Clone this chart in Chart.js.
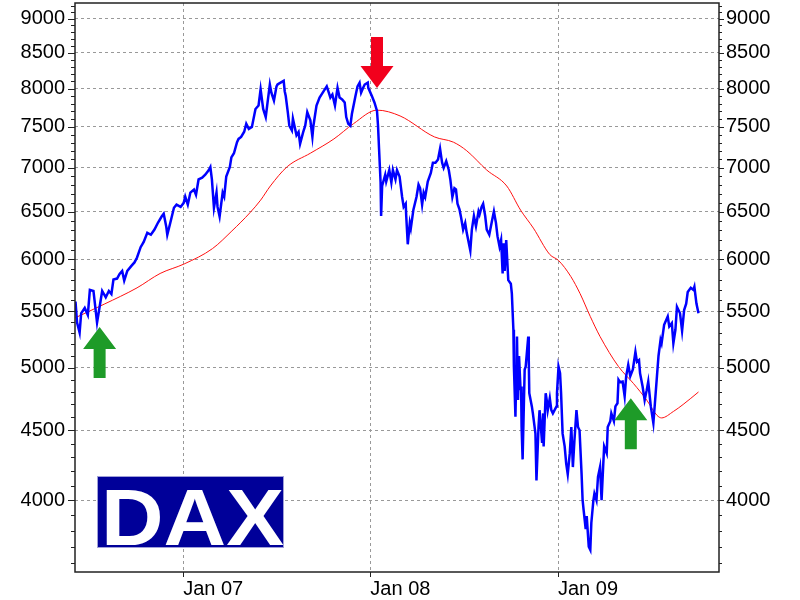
<!DOCTYPE html>
<html>
<head>
<meta charset="utf-8">
<title>DAX</title>
<script src="https://cdn.jsdelivr.net/npm/chart.js@4.4.1/dist/chart.umd.min.js"></script>
<style>
  body { margin: 0; background: #fff; }
  #wrap { width: 800px; height: 600px; }
</style>
</head>
<body>
<div id="wrap"><canvas id="daxChart" width="800" height="600"></canvas></div>
<script>
// DAX closes, every few trading days
const daxDates = [
  '2006-06-05','2006-06-08','2006-06-13','2006-06-16','2006-06-23','2006-06-29','2006-07-03','2006-07-10','2006-07-12','2006-07-17',
  '2006-07-20','2006-07-27','2006-08-03','2006-08-09','2006-08-14','2006-08-18','2006-08-25','2006-08-30','2006-09-04','2006-09-08',
  '2006-09-14','2006-09-22','2006-09-28','2006-10-03','2006-10-10','2006-10-16','2006-10-23','2006-10-30','2006-11-06','2006-11-13',
  '2006-11-20','2006-11-24','2006-11-29','2006-12-01','2006-12-07','2006-12-14','2006-12-19','2006-12-27',
  '2007-01-02','2007-01-05','2007-01-10','2007-01-15','2007-01-22','2007-01-26','2007-01-31','2007-02-07','2007-02-13','2007-02-20',
  '2007-02-23','2007-02-26','2007-03-02','2007-03-07','2007-03-09','2007-03-13','2007-03-19','2007-03-22','2007-03-26','2007-04-02',
  '2007-04-05','2007-04-10','2007-04-16','2007-04-19','2007-04-24','2007-04-30','2007-05-04','2007-05-09','2007-05-15','2007-05-22',
  '2007-05-28','2007-06-01','2007-06-06','2007-06-11','2007-06-15','2007-06-19','2007-06-22','2007-06-27','2007-07-02','2007-07-04',
  '2007-07-10','2007-07-16','2007-07-18','2007-07-20','2007-07-24','2007-07-27','2007-08-01','2007-08-03','2007-08-10','2007-08-14',
  '2007-08-17','2007-08-23','2007-08-27','2007-08-31','2007-09-06','2007-09-10','2007-09-12','2007-09-18','2007-09-24','2007-10-02',
  '2007-10-08','2007-10-12','2007-10-15','2007-10-19','2007-10-24','2007-10-29','2007-11-02','2007-11-07','2007-11-12','2007-11-15',
  '2007-11-19','2007-11-23','2007-11-26','2007-12-03','2007-12-07','2007-12-11','2007-12-14','2007-12-18','2007-12-21','2007-12-27',
  '2007-12-28',
  '2008-01-04','2008-01-09','2008-01-14','2008-01-16','2008-01-18','2008-01-21','2008-01-22','2008-01-24','2008-01-30','2008-02-01',
  '2008-02-07','2008-02-11','2008-02-14','2008-02-19','2008-02-22','2008-02-27','2008-03-03','2008-03-06','2008-03-10','2008-03-11',
  '2008-03-14','2008-03-18','2008-03-20','2008-03-25','2008-03-31','2008-04-04','2008-04-07','2008-04-11','2008-04-14','2008-04-17',
  '2008-04-22','2008-04-28','2008-05-02','2008-05-07','2008-05-12','2008-05-16','2008-05-20','2008-05-23','2008-05-28','2008-06-02',
  '2008-06-05','2008-06-09','2008-06-13','2008-06-16','2008-06-19','2008-06-23','2008-06-26','2008-06-30','2008-07-04','2008-07-07',
  '2008-07-14','2008-07-17','2008-07-21','2008-07-25','2008-07-30','2008-08-01','2008-08-05','2008-08-08','2008-08-12','2008-08-15',
  '2008-08-20','2008-08-25','2008-08-29','2008-09-02','2008-09-05','2008-09-09','2008-09-12','2008-09-15','2008-09-17','2008-09-19',
  '2008-09-22','2008-09-26','2008-10-01','2008-10-03','2008-10-06','2008-10-07','2008-10-10','2008-10-13','2008-10-15','2008-10-17',
  '2008-10-20','2008-10-21','2008-10-22','2008-10-24','2008-10-28','2008-10-30','2008-11-04','2008-11-05','2008-11-06','2008-11-11',
  '2008-11-13','2008-11-18','2008-11-20','2008-11-24','2008-11-26','2008-12-01','2008-12-03','2008-12-04','2008-12-08','2008-12-10',
  '2008-12-12','2008-12-16','2008-12-19','2008-12-22','2008-12-29','2008-12-30',
  '2009-01-02','2009-01-05','2009-01-07','2009-01-10','2009-01-14','2009-01-17','2009-01-20','2009-01-24','2009-01-27','2009-01-30',
  '2009-02-02','2009-02-06','2009-02-09','2009-02-12','2009-02-16','2009-02-18','2009-02-20','2009-02-24','2009-02-26','2009-03-02',
  '2009-03-05','2009-03-07','2009-03-11','2009-03-13','2009-03-17','2009-03-20','2009-03-24','2009-03-27','2009-03-30','2009-04-01',
  '2009-04-06','2009-04-08','2009-04-13','2009-04-15','2009-04-20','2009-04-23','2009-04-27','2009-04-29','2009-05-02','2009-05-07',
  '2009-05-11','2009-05-14','2009-05-18','2009-05-22','2009-05-27','2009-06-01','2009-06-04','2009-06-08','2009-06-10','2009-06-15',
  '2009-06-19','2009-06-23','2009-06-26','2009-07-01','2009-07-06','2009-07-09','2009-07-13','2009-07-16','2009-07-20','2009-07-22',
  '2009-07-27','2009-08-03','2009-08-06','2009-08-11','2009-08-14','2009-08-18','2009-08-21','2009-08-27','2009-08-31','2009-09-04',
  '2009-09-08','2009-09-11','2009-09-17','2009-09-22','2009-09-24','2009-09-28','2009-10-02'
];
const daxValues = [
  5590,5395,5305,5480,5530,5465,5700,5690,5605,5395,
  5480,5690,5630,5690,5660,5800,5810,5855,5885,5790,
  5885,5935,5970,6020,6125,6180,6275,6255,6310,6385,
  6450,6480,6340,6255,6385,6545,6580,6555,
  6600,6670,6580,6715,6750,6690,6865,6885,6920,6975,
  7010,6865,6545,6715,6555,6450,6715,6670,6900,7010,
  7125,7175,7310,7350,7375,7440,7540,7475,7500,7730,
  7775,7990,7730,7625,7840,8055,7945,7840,8030,8055,
  8080,8105,7965,7900,7690,7515,7455,7605,7395,7435,
  7290,7435,7515,7690,7585,7375,7515,7775,7880,7965,
  8030,7945,7880,7920,7775,8010,7880,7855,7815,7625,
  7540,7515,7665,7900,8030,8080,7945,8010,8055,8080,
  8010,
  7900,7815,7705,7515,7230,6830,6455,6790,6920,6840,
  6975,6830,6975,6865,6975,6900,6665,6555,6590,6455,
  6155,6380,6325,6525,6665,6805,6765,6580,6715,6665,
  6840,6940,7060,7060,7100,7230,7060,7000,7080,6975,
  6865,6665,6765,6750,6590,6525,6440,6310,6380,6275,
  6090,6310,6455,6345,6505,6470,6555,6590,6455,6310,
  6255,6395,6505,6380,6240,6130,6200,5860,6165,5885,
  6200,5795,5760,5665,5330,5010,4605,5270,4735,5100,
  4815,4845,4525,4285,4985,5010,5270,5065,4790,4685,
  4630,4475,4135,4525,4655,4405,4630,4380,4790,4735,
  4655,4750,4655,4630,4685,4790,
  5010,4955,4790,4475,4380,4255,4180,4330,4525,4230,
  4420,4655,4525,4500,4180,4000,3935,3810,3895,3700,
  3680,3850,4000,4045,4000,4160,4230,4000,4230,4380,
  4330,4525,4570,4630,4570,4685,4710,4900,4880,4885,
  4765,4930,5025,4930,4985,5135,5050,5065,4955,4845,
  4735,4815,4885,4685,4555,4710,4930,5100,5240,5210,
  5375,5450,5360,5390,5210,5330,5540,5480,5320,5510,
  5570,5680,5720,5700,5730,5570,5480
];

// 200 day moving average
const maDates = [
  '2006-06-05','2006-07-31','2006-10-03','2006-11-17','2007-01-03','2007-02-27','2007-04-06','2007-05-11','2007-06-01','2007-06-20',
  '2007-07-23','2007-09-06','2007-10-22','2007-11-29','2008-01-14','2008-02-28','2008-05-05','2008-06-11','2008-07-07','2008-08-15',
  '2008-09-23','2008-10-20','2008-11-14','2008-12-16','2009-01-02','2009-01-26','2009-02-13','2009-03-05','2009-03-24','2009-04-29',
  '2009-05-28','2009-06-23','2009-07-13','2009-07-22','2009-08-14','2009-09-02','2009-10-02'
];
const maValues = [
  5440,5565,5720,5860,5955,6110,6295,6490,6630,6790,
  7015,7175,7350,7540,7715,7640,7375,7310,7205,6975,
  6790,6520,6325,6050,5990,5830,5665,5450,5270,5010,
  4870,4735,4615,4595,4645,4700,4800
];

// axes
const yTicks = [4000, 4500, 5000, 5500, 6000, 6500, 7000, 7500, 8000, 8500, 9000];
const yMin = 3545;
const yMax = 9240;
const xTickDates = ['2007-01-01', '2008-01-01', '2009-01-01'];
const xTickLabels = ['Jan 07', 'Jan 08', 'Jan 09'];
const xMinDate = '2006-06-04';
const xMaxDate = '2009-11-11';

// signal arrows, given by the point the tip touches
const arrowDates = ['2006-07-22', '2008-01-14', '2009-05-23'];
const arrowValues = [5356, 8009, 4749];
const arrowDirs = ['up', 'down', 'up'];

function toPoints(dates, values) {
  return dates.map((d, i) => ({ x: Date.parse(d), y: values[i] }));
}

// draw a block arrow, tip at (tx, ty)
function drawArrow(ctx, tx, ty, dir, color) {
  const s = dir === 'up' ? 1 : -1;
  const head = 22, len = 51, hw = 16.5, sw = 6;
  ctx.beginPath();
  ctx.moveTo(tx, ty);
  ctx.lineTo(tx + hw, ty + s * head);
  ctx.lineTo(tx + sw, ty + s * head);
  ctx.lineTo(tx + sw, ty + s * len);
  ctx.lineTo(tx - sw, ty + s * len);
  ctx.lineTo(tx - sw, ty + s * head);
  ctx.lineTo(tx - hw, ty + s * head);
  ctx.closePath();
  ctx.fillStyle = color;
  ctx.fill();
}

function drawLogo(ctx, left, top, w, h) {
  ctx.save();
  ctx.fillStyle = '#000099';
  ctx.fillRect(left, top, w, h);
  ctx.strokeStyle = '#a0a0d8';
  ctx.lineWidth = 1;
  ctx.strokeRect(left + 0.5, top + 0.5, w - 1, h - 1);
  ctx.font = 'bold 80px "Liberation Sans", Arial, sans-serif';
  const tw = ctx.measureText('DAX').width;
  ctx.translate(left + 4, top + h - 3);
  ctx.scale((w - 4) / tw, 1);
  ctx.fillStyle = '#ffffff';
  ctx.textBaseline = 'alphabetic';
  ctx.fillText('DAX', 0, 0);
  ctx.restore();
}

const decorations = {
  id: 'decorations',
  afterDatasetsDraw(chart) {
    const { ctx, chartArea: a, scales: { x, y } } = chart;
    drawLogo(ctx, a.left + 22, 476, 187, 72);
    arrowDates.forEach((d, i) => {
      const px = x.getPixelForValue(Date.parse(d));
      const py = y.getPixelForValue(arrowValues[i]);
      drawArrow(ctx, px, py, arrowDirs[i], arrowDirs[i] === 'up' ? '#1e9b28' : '#f2001c');
    });
  },
  afterDraw(chart) {
    const { ctx, chartArea: a, scales: { x, y } } = chart;
    ctx.save();
    ctx.strokeStyle = '#222';
    ctx.lineWidth = 1.5;
    ctx.strokeRect(a.left, a.top, a.right - a.left, a.bottom - a.top);
    ctx.lineWidth = 1;
    ctx.beginPath();
    // minor ticks every 100, longer at the labelled ones
    for (let v = 3600; v <= 9200; v += 100) {
      const py = Math.round(y.getPixelForValue(v)) + 0.5;
      const major = v % 500 === 0;
      ctx.moveTo(a.left - (major ? 7 : 4), py);
      ctx.lineTo(a.left, py);
      ctx.moveTo(a.right, py);
      ctx.lineTo(a.right + (major ? 5 : 3), py);
    }
    xTickDates.forEach((d) => {
      const px = Math.round(x.getPixelForValue(Date.parse(d))) + 0.5;
      ctx.moveTo(px, a.bottom);
      ctx.lineTo(px, a.bottom + 5);
    });
    ctx.stroke();
    ctx.restore();
  }
};

Chart.defaults.font.family = '"Liberation Sans", Arial, sans-serif';
Chart.defaults.font.size = 20;
Chart.defaults.color = '#000';

const logYAxis = (position, width, pad, showGrid) => ({
  type: 'logarithmic',
  position: position,
  min: yMin,
  max: yMax,
  bounds: 'data',
  afterBuildTicks: (scale) => { scale.ticks = yTicks.map((v) => ({ value: v })); },
  afterFit: (scale) => {
    scale.width = width;
    scale.paddingTop = 0;
    scale.paddingBottom = 0;
  },
  ticks: { padding: pad, callback: (v) => String(v) },
  grid: { display: showGrid, color: '#999', drawTicks: false },
  border: { display: false, dash: [3, 3] }
});

new Chart(document.getElementById('daxChart'), {
  type: 'line',
  data: {
    datasets: [
      {
        label: 'DAX',
        data: toPoints(daxDates, daxValues),
        borderColor: '#0000ff',
        borderWidth: 2.5,
        pointRadius: 0,
        tension: 0
      },
      {
        label: '200 Tage',
        data: toPoints(maDates, maValues),
        borderColor: '#ff1010',
        borderWidth: 1,
        pointRadius: 0,
        cubicInterpolationMode: 'monotone'
      }
    ]
  },
  options: {
    responsive: false,
    animation: false,
    devicePixelRatio: 1,
    layout: { padding: { top: 3, left: 0, right: 0, bottom: 0 } },
    plugins: { legend: { display: false }, tooltip: { enabled: false } },
    scales: {
      x: {
        type: 'linear',
        min: Date.parse(xMinDate),
        max: Date.parse(xMaxDate),
        bounds: 'data',
        afterBuildTicks: (scale) => { scale.ticks = xTickDates.map((d) => ({ value: Date.parse(d) })); },
        afterFit: (scale) => {
          scale.height = 28;
          scale.paddingLeft = 0;
          scale.paddingRight = 0;
        },
        ticks: {
          align: 'start',
          padding: 5,
          maxRotation: 0,
          autoSkip: false,
          callback: (v, i) => xTickLabels[i]
        },
        grid: { color: '#999', drawTicks: false },
        border: { display: false, dash: [3, 3] }
      },
      y: logYAxis('left', 75, 10, true),
      y2: logYAxis('right', 81, 7, false)
    }
  },
  plugins: [decorations]
});
</script>
</body>
</html>
